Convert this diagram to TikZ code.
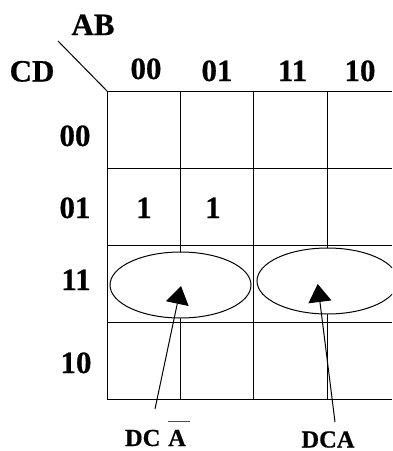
\documentclass[tikz,border=0pt]{standalone}
\usepackage{fontspec}
\setmainfont[BoldFeatures={FakeBold=0.6}]{Liberation Serif}
\usetikzlibrary{arrows.meta}
\tikzset{
  gridline/.style={line width=1pt,black},
  ring/.style={line width=1pt,black,fill=white},
  pointer/.style={line width=1pt,-{Triangle[width=23pt,length=18pt]}},
  big/.style={anchor=base,inner sep=0pt,font=\fontsize{31}{31}\selectfont\bfseries},
  small/.style={anchor=base,inner sep=0pt,font=\fontsize{24.5}{25}\selectfont\bfseries}
}
\begin{document}
\begin{tikzpicture}[x=1pt,y=-1pt]
\useasboundingbox (0,0) rectangle (392,451);
\clip (0,0) rectangle (392,451);
% grid
\foreach \y in {91.5,168.5,245.5,322.5,399.5} \draw[gridline] (107,\y) -- (392,\y);
\foreach \x in {107.5,180.5,253.5,327.5} \draw[gridline] (\x,91) -- (\x,400);
% corner
\coordinate (corner) at (107.5,91.5);
\coordinate (diag) at (58,41);
\draw[gridline] (diag) -- (corner);
% headings
\node[big] (ab) at (93,35) {AB};
\node[big] (cd) at (32,81.5) {CD};
\node[big] (h00) at (146,79) {00};
\node[big] (h01) at (217,81) {01};
\node[big] (h11) at (292.5,81) {11};
\node[big] (h10) at (360,81) {10};
\node[big] (r00) at (75,146) {00};
\node[big] (r01) at (75,218) {01};
\node[big] (r11) at (76,290) {11};
\node[big] (r10) at (76,373) {10};
\node[big] (c1) at (144,218) {1};
\node[big] (c2) at (213,218) {1};
% loops
\draw[ring] (180.5,285) ellipse [x radius=70.5,y radius=33];
\draw[ring] (327.5,281) ellipse [x radius=70.5,y radius=33];
% labels
\node[small] (dc) at (142.7,446) {DC};
\node[small] (a) at (177,446) {A};
\draw[line width=1.1pt,black!70] (168,421.7) -- (190,421.7);
\node[small] (dca) at (328,447.5) {DCA};
% arrows
\coordinate (s1) at (155,409);
\coordinate (t1) at (181,286);
\coordinate (s2) at (335,422);
\coordinate (t2) at (317.7,284);
\draw[pointer] (s1) -- (t1);
\draw[pointer] (s2) -- (t2);
\end{tikzpicture}
\end{document}
